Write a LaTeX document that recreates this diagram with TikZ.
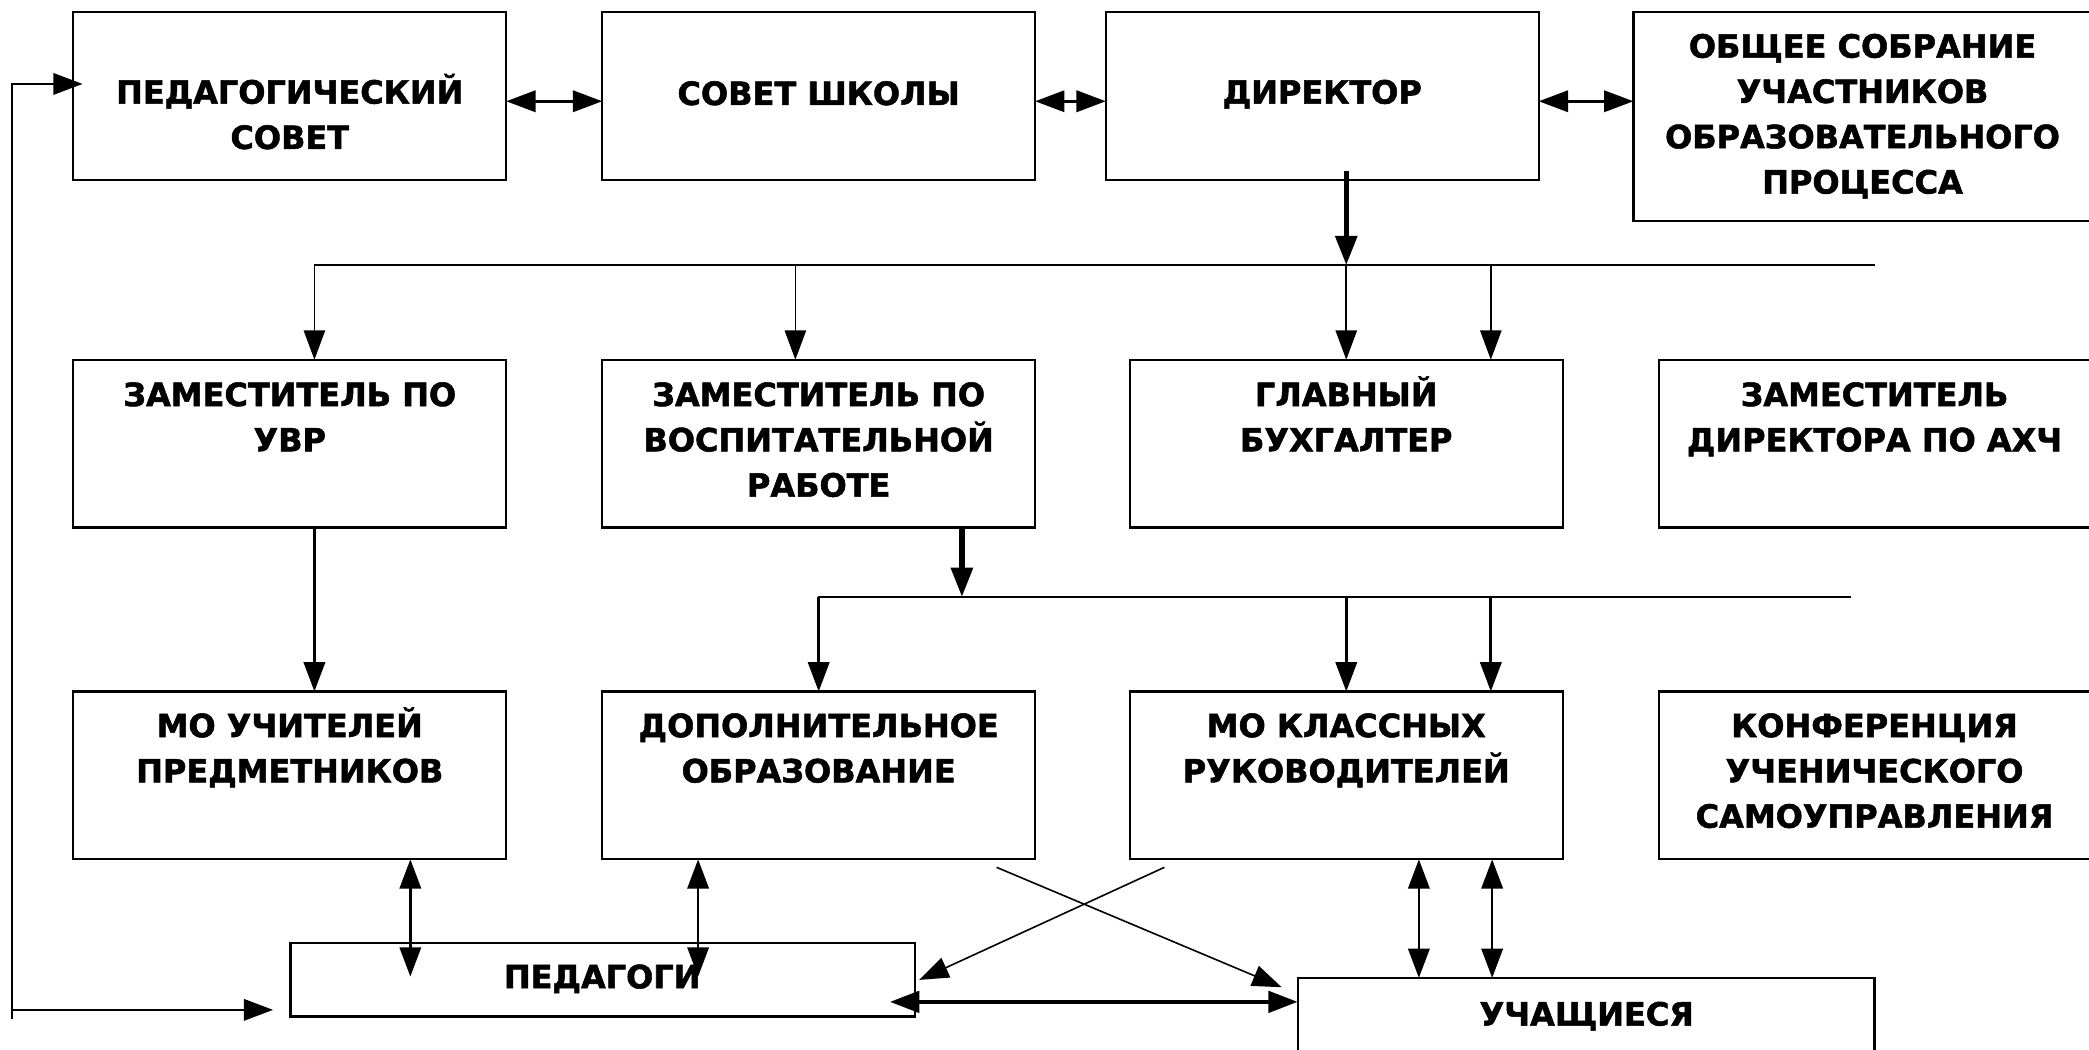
\documentclass[tikz,border=0pt]{standalone}
\usepackage{fontspec}
\setmainfont{DejaVu Sans}[BoldFeatures={FakeBold=1.6}]
\usetikzlibrary{arrows.meta,calc}
\newcommand\lstr{\rule[-8.25pt]{0pt}{34pt}}
\begin{document}
\begin{tikzpicture}[x=1pt,y=-1pt,
  box/.style={draw, line width=1.7pt, minimum width=325pt, minimum height=126pt, inner sep=0pt, outer sep=0pt},
  lbl/.style={font=\fontsize{24pt}{34pt}\selectfont\bfseries, align=center, inner sep=0pt},
  tip/.style={-{Triangle[length=22pt,width=16pt]}},
  dtip/.style={{Triangle[length=22pt,width=16pt]}-{Triangle[length=22pt,width=16pt]}},
  thinln/.style={line width=1.2pt},
  medln/.style={line width=2pt},
  heavyln/.style={line width=4pt}]
\path[use as bounding box] (0,0) rectangle (1568,788);
\fill[white] (0,0) rectangle (1568,788);
\clip (0,0) rectangle (1568,788);
% boxes
\node[box] (ps) at (217.5,72) {};
\node[box] (ss) at (614.5,72) {};
\node[box] (dir) at (992.5,72) {};
\node[box, minimum width=345pt, minimum height=157pt] (os) at (1398.5,87.5) {};
\node[box] (zu) at (217.5,333) {};
\node[box] (zv) at (614.5,333) {};
\node[box] (gb) at (1010.5,333) {};
\node[box] (za) at (1407.5,333) {};
\node[box] (mou) at (217.5,582) {};
\node[box] (dop) at (614.5,582) {};
\node[box] (mok) at (1010.5,582) {};
\node[box] (konf) at (1407.5,582) {};
\node[box, minimum width=469pt, minimum height=55pt] (ped) at (452.5,735.5) {};
\node[box, minimum width=433pt, minimum height=60pt] (uch) at (1190.5,764) {};
% labels
\node[lbl] (psT) at (217.5,86) {\lstr ПЕДАГОГИЧЕСКИЙ\\\lstr СОВЕТ};
\node[lbl] (ssT) at (614.5,70) {\lstr СОВЕТ ШКОЛЫ};
\node[lbl] (dirT) at (992.5,69) {\lstr ДИРЕКТОР};
\node[lbl] (osT) at (1398,85.5) {\lstr ОБЩЕЕ СОБРАНИЕ\\\lstr УЧАСТНИКОВ\\\lstr ОБРАЗОВАТЕЛЬНОГО\\\lstr ПРОЦЕССА};
\node[lbl] (zuT) at (217.5,313) {\lstr ЗАМЕСТИТЕЛЬ ПО\\\lstr УВР};
\node[lbl] (zvT) at (614.5,330) {\lstr ЗАМЕСТИТЕЛЬ ПО\\\lstr ВОСПИТАТЕЛЬНОЙ\\\lstr РАБОТЕ};
\node[lbl] (gbT) at (1010.5,313) {\lstr ГЛАВНЫЙ\\\lstr БУХГАЛТЕР};
\node[lbl] (zaT) at (1407,313) {\lstr ЗАМЕСТИТЕЛЬ\\\lstr ДИРЕКТОРА ПО АХЧ};
\node[lbl] (mouT) at (217.5,561.5) {\lstr МО УЧИТЕЛЕЙ\\\lstr ПРЕДМЕТНИКОВ};
\node[lbl] (dopT) at (614.5,561.5) {\lstr ДОПОЛНИТЕЛЬНОЕ\\\lstr ОБРАЗОВАНИЕ};
\node[lbl] (mokT) at (1010.5,561.5) {\lstr МО КЛАССНЫХ\\\lstr РУКОВОДИТЕЛЕЙ};
\node[lbl] (konfT) at (1407,578.5) {\lstr КОНФЕРЕНЦИЯ\\\lstr УЧЕНИЧЕСКОГО\\\lstr САМОУПРАВЛЕНИЯ};
\node[lbl] (pedT) at (452,733) {\lstr ПЕДАГОГИ};
\node[lbl] (uchT) at (1191,761) {\lstr УЧАЩИЕСЯ};
% top row links
\draw[medln,dtip] ($(ps.east)+(0,4)$) -- ($(ss.west)+(0,4)$);
\draw[medln,dtip] ($(ss.east)+(0,4)$) -- ($(dir.west)+(0,4)$);
\draw[medln,dtip] ($(dir.east)+(0,4)$) -- ($(dir.east)+(71,4)$);
% director bus
\coordinate (b1L) at (236,199);
\coordinate (b1R) at (1407,199);
\draw[medln] (b1L) -- (b1R);
\draw[heavyln,tip] ($(gb.north |- dir.south)+(0,-7)$) -- (gb.north |- b1L);
\draw[thinln,tip] (b1L) -- ($(zu.north)+(18.5,0)$);
\draw[thinln,tip] ($(zv.north |- b1L)+(-17.5,0)$) -- ($(zv.north)+(-17.5,0)$);
\draw[thinln,tip] (gb.north |- b1L) -- (gb.north);
\draw[thinln,tip] ($(gb.north |- b1L)+(108.5,0)$) -- ($(gb.north)+(108.5,0)$);
% zam UVR -> MO
\draw[medln,tip] ($(zu.south)+(18.5,0)$) -- ($(mou.north)+(18.5,0)$);
% second bus
\coordinate (b2L) at (614,448);
\coordinate (b2R) at (1389,448);
\draw[heavyln,tip] ($(zv.south)+(107.5,0)$) -- ($(zv.south)+(107.5,52)$);
\draw[medln] (b2L) -- (b2R);
\draw[medln,tip] (dop.north |- b2L) -- (dop.north);
\draw[medln,tip] (mok.north |- b2L) -- (mok.north);
\draw[medln,tip] ($(mok.north |- b2L)+(108.5,0)$) -- ($(mok.north)+(108.5,0)$);
% bottom links
\draw[medln,dtip] ($(mou.south)+(90.5,0)$) -- ($(mou.south |- ped.center)+(90.5,-2.5)$);
\draw[medln,dtip] ($(dop.south)+(-90.5,0)$) -- ($(dop.south |- ped.center)+(-90.5,-2.5)$);
\draw[medln,dtip] ($(mok.south)+(54.5,0)$) -- ($(mok.south |- uch.north)+(54.5,0)$);
\draw[medln,dtip] ($(mok.south)+(109.5,0)$) -- ($(mok.south |- uch.north)+(109.5,0)$);
\draw[thinln,tip] ($(dop.south)+(133.5,6)$) -- ($(uch.north west)+(-12,7)$);
\draw[thinln,tip] ($(mok.south)+(-136.5,6)$) -- ($(ped.east)+(3,0)$);
\draw[line width=3pt,dtip] ($(ped.east)+(-19,16.5)$) -- ($(ped.east)+(287,16.5)$);
% feedback line
\coordinate (fb) at (9,765);
\draw[medln,tip] (fb) |- ($(ps.west)+(7,-9)$);
\draw[medln,tip] ($(fb)+(0,-7)$) -- ($(ped.west)+(-13,22.5)$);
\end{tikzpicture}
\end{document}
